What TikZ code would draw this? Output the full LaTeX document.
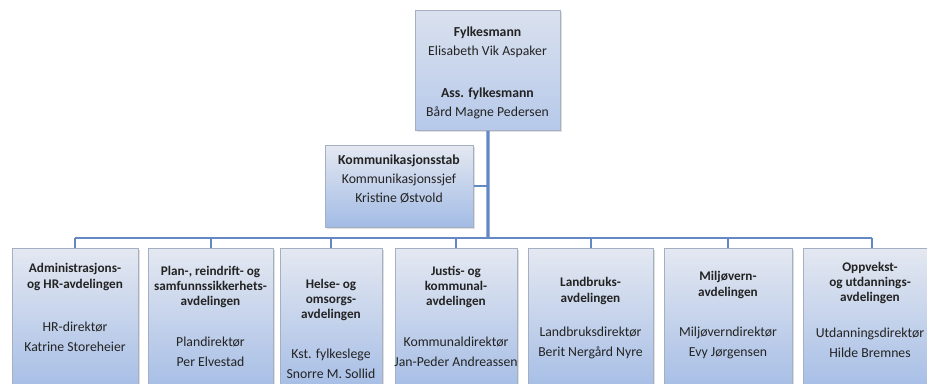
\documentclass[tikz,border=0pt]{standalone}
\usepackage{fontspec}
\setmainfont{Carlito}
\usetikzlibrary{shadows}
\definecolor{conn}{RGB}{99,136,196}
\definecolor{boxline}{RGB}{165,175,195}
\definecolor{boxtop}{RGB}{228,232,241}
\definecolor{boxbot}{RGB}{162,187,229}
\definecolor{txt}{RGB}{35,35,35}
\begin{document}
\begin{tikzpicture}[x=0.75pt,y=-0.75pt,
  box/.style={draw=boxline, line width=0.6pt, top color=boxtop, bottom color=boxbot,
    inner sep=0pt, anchor=north west,
    drop shadow={shadow xshift=1.2pt, shadow yshift=-1.2pt, opacity=0.25}},
  ttl/.style={align=center, text=txt, inner sep=0pt,
    font={\bfseries\fontsize{9.9}{11.6}\selectfont}},
  nms/.style={align=center, text=txt, inner sep=0pt,
    font={\fontsize{10.3}{15}\selectfont}},
  topt/.style={align=center, text=txt, inner sep=0pt,
    font={\fontsize{10.3}{14.6}\selectfont}},
  mainline/.style={draw=conn, line width=2.4pt},
  busline/.style={draw=conn, line width=2pt},
  dropline/.style={draw=conn, line width=1.5pt}]
\useasboundingbox (0,0) rectangle (927,383);
\clip (0,0) rectangle (927,383);
\fill[white] (0,0) rectangle (927,383);

% boxes
\node[box, minimum width={145*0.75pt}, minimum height={120*0.75pt}, top color={rgb,255:red,218;green,225;blue,238}, bottom color={rgb,255:red,182;green,201;blue,234}] (top) at (415,10) {};
\node[box, minimum width={148*0.75pt}, minimum height={82*0.75pt}] (komm) at (325,145) {};
\node[box, minimum width={126*0.75pt}, minimum height={150*0.75pt}] (b1) at (12,248) {};
\node[box, minimum width={125*0.75pt}, minimum height={150*0.75pt}] (b2) at (148,248) {};
\node[box, minimum width={102*0.75pt}, minimum height={150*0.75pt}] (b3) at (280,248) {};
\node[box, minimum width={122*0.75pt}, minimum height={150*0.75pt}] (b4) at (395,248) {};
\node[box, minimum width={125*0.75pt}, minimum height={150*0.75pt}] (b5) at (528,248) {};
\node[box, minimum width={128*0.75pt}, minimum height={150*0.75pt}] (b6) at (664,248) {};
\node[box, minimum width={138*0.75pt}, minimum height={150*0.75pt}] (b7) at (803,248) {};

% connectors
\coordinate (bus) at (488,238);
\coordinate (busL) at (75,238);
\coordinate (busR) at (872,238);
\draw[mainline] (top.south) -- (bus);
\draw[dropline] (komm.east) -- (komm.east -| bus);
\draw[busline] (busL) -- (busR);
\foreach \b in {b1,b2,b3,b4,b5,b6,b7}{
  \draw[dropline] (\b.north |- bus) -- (\b.north);
}

% texts
\node[topt] (t0a) at (487.5,42.5) {\textbf{Fylkesmann}\\Elisabeth Vik Aspaker};
\node[topt] (t0b) at (487.5,103.5) {\textbf{Ass. fylkesmann}\\Bård Magne Pedersen};
\node[topt] (tk) at (399,179) {\textbf{Kommunikasjonsstab}\\Kommunikasjonssjef\\Kristine Østvold};

\node[ttl] (t1) at (75,277) {Administrasjons-\\og HR-avdelingen};
\node[nms] (n1) at (75,337) {HR-direktør\\Katrine Storeheier};

\node[ttl] (t2) at (210.5,287) {Plan-, reindrift- og\\samfunnssikkerhets-\\avdelingen};
\node[nms] (n2) at (210.5,352) {Plandirektør\\Per Elvestad};

\node[ttl] (t3) at (331,300) {Helse- og\\omsorgs-\\avdelingen};
\node[nms] (n3) at (331,364) {Kst. fylkeslege\\Snorre M. Sollid};

\node[ttl] (t4) at (456,287) {Justis- og\\kommunal-\\avdelingen};
\node[nms] (n4) at (456,352) {Kommunaldirektør\\Jan-Peder Andreassen};

\node[ttl] (t5) at (590.5,291) {Landbruks-\\avdelingen};
\node[nms] (n5) at (590.5,343) {Landbruksdirektør\\Berit Nergård Nyre};

\node[ttl] (t6) at (728,285) {Miljøvern-\\avdelingen};
\node[nms] (n6) at (728,343) {Miljøverndirektør\\Evy Jørgensen};

\node[ttl] (t7) at (870,283) {Oppvekst-\\og utdannings-\\avdelingen};
\node[nms] (n7) at (870,343) {Utdanningsdirektør\\Hilde Bremnes};
\end{tikzpicture}
\end{document}
